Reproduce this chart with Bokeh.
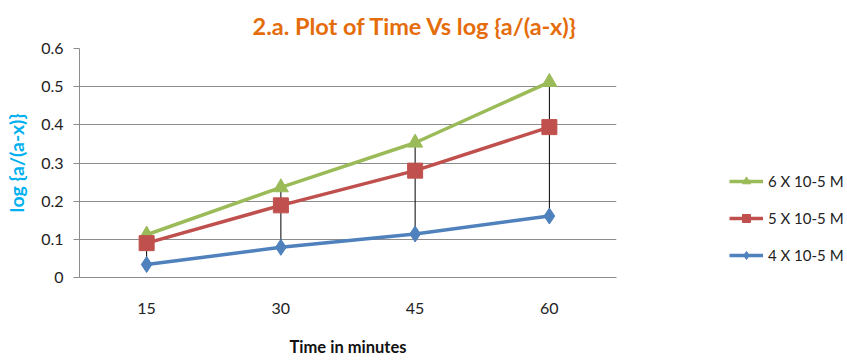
from bokeh.plotting import figure
from bokeh.models import FactorRange, Range1d, Legend, LegendItem, FixedTicker
from bokeh.embed import file_html
from bokeh.resources import INLINE

times = ["15", "30", "45", "60"]
s6 = [0.112, 0.236, 0.353, 0.512]
s5 = [0.090, 0.189, 0.280, 0.394]
s4 = [0.034, 0.079, 0.114, 0.161]
names = ["6 X 10-5 M", "5 X 10-5 M", "4 X 10-5 M"]
title_text = "2.a. Plot of Time Vs log {a/(a-x)}"
xlabel = "Time in minutes"
ylabel = "log {a/(a-x)}"

FONT = "Lato"
p = figure(frame_width=537, frame_height=229, x_range=FactorRange(*times), y_range=Range1d(0, 0.6),
           output_backend="svg", toolbar_location=None,
           min_border_left=79, min_border_right=0, min_border_top=48, min_border_bottom=85)
p.outline_line_color = None
p.xgrid.grid_line_color = None
p.ygrid.grid_line_color = "#8c8c8c"
p.ygrid.grid_line_width = 1
p.yaxis.ticker = FixedTicker(ticks=[0, 0.1, 0.2, 0.3, 0.4, 0.5, 0.6])
p.yaxis.major_label_overrides = {0: "0", 0.1: "0.1", 0.2: "0.2", 0.3: "0.3", 0.4: "0.4", 0.5: "0.5", 0.6: "0.6"}
for ax in (p.xaxis, p.yaxis):
    ax.axis_line_color = "#8c8c8c"
    ax.major_tick_line_color = "#8c8c8c"
    ax.minor_tick_line_color = None
    ax.major_label_text_font = FONT
    ax.major_label_text_font_size = "16px"
    ax.major_label_text_color = "#222222"
    ax.axis_label_text_font = FONT
    ax.axis_label_text_font_style = "bold"
p.yaxis.major_tick_out = 6
p.yaxis.major_tick_in = 0
p.yaxis.major_label_standoff = 10
p.xaxis.major_tick_out = 0
p.xaxis.major_tick_in = 0
p.xaxis.major_label_standoff = 25
p.xaxis.axis_label = xlabel
p.xaxis.axis_label_text_font_size = "16.5px"
p.xaxis.axis_label_text_color = "#111111"
p.xaxis.axis_label_standoff = 20
p.yaxis.axis_label = ylabel
p.yaxis.axis_label_text_font_size = "19.5px"
p.yaxis.axis_label_text_color = "#00B0F0"
p.yaxis.axis_label_standoff = 10

p.title.text = title_text
p.title.align = "left"
p.title.offset = 173
p.title.text_font = FONT
p.title.text_font_size = "23.5px"
p.title.text_font_style = "bold"
p.title.text_color = "#E46C0A"
p.title.standoff = 17

# high-low lines
p.segment(x0=times, y0=s4, x1=times, y1=s6, line_color="black", line_width=1)

colors = ["#9BBB59", "#C0504D", "#4F81BD"]
markers = ["triangle", "square", "diamond"]
sizes = [15, 15, 16]
items = []
for vals, c, m, sz, nm in zip([s6, s5, s4], colors, markers, sizes, names):
    ln = p.line(times, vals, line_color=c, line_width=3.5)
    sc = p.scatter(times, vals, marker=m, size=sz, fill_color=c, line_color=c)
    items.append(LegendItem(label=nm, renderers=[ln, sc]))

leg = Legend(items=items, location=(113, 12), padding=0, margin=0, spacing=17,
             glyph_width=34, glyph_height=20, label_height=20, label_standoff=5,
             border_line_color=None, background_fill_alpha=0,
             label_text_font=FONT, label_text_font_size="15px", label_text_color="#222222")
p.add_layout(leg, "right")

open("out.html", "w").write(file_html(p, INLINE))
